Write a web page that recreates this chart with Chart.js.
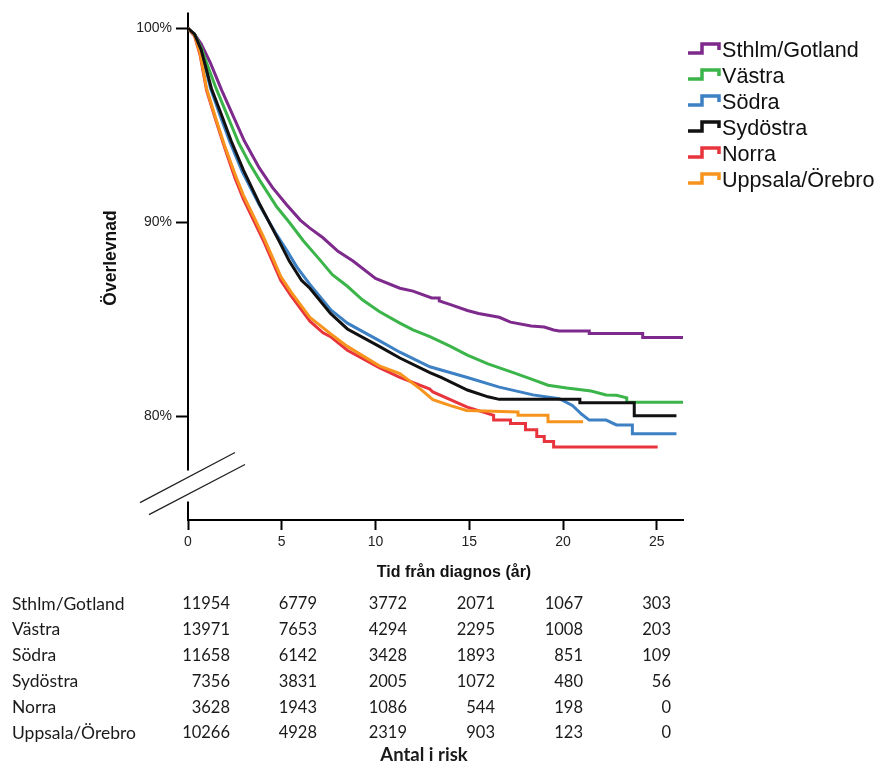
<!DOCTYPE html>
<html lang="sv">
<head>
<meta charset="utf-8">
<title>Överlevnad per region</title>
<script src="https://cdn.jsdelivr.net/npm/chart.js@4.4.1/dist/chart.umd.min.js"></script>
<style>
  html, body { margin: 0; padding: 0; background: #fff; }
  #wrap { width: 877px; height: 767px; }
</style>
</head>
<body>
<div id="wrap"><canvas id="kmChart" width="877" height="767"></canvas></div>
<script>
// Regions, in legend / table order
const regions = ['Sthlm/Gotland', 'Västra', 'Södra', 'Sydöstra', 'Norra', 'Uppsala/Örebro'];
const regionColors = ['#7d2a8c', '#3bb54a', '#3d80c3', '#111111', '#e8343c', '#f7941d'];

// Survival curves: years since diagnosis / survival in percent
const sthlmYears = [0, 0.35, 0.7, 1.2, 1.8, 2.4, 3.0, 3.8, 4.5, 5.26, 6.0, 6.5, 7.2, 8.0, 8.8, 10.0, 11.3, 12.0, 13.0, 13.4, 13.4, 14.0, 14.9, 15.5, 16.6, 17.2, 18.3, 19.0, 19.5, 19.8, 21.4, 21.4, 24.25, 24.25, 26.4];
const sthlmSurv  = [100, 99.7, 99.2, 98.2, 96.8, 95.5, 94.2, 92.8, 91.8, 90.9, 90.1, 89.7, 89.2, 88.5, 88.0, 87.1, 86.6, 86.45, 86.1, 86.1, 85.95, 85.75, 85.45, 85.3, 85.1, 84.85, 84.65, 84.6, 84.45, 84.4, 84.4, 84.27, 84.27, 84.06, 84.06];

const vastraYears = [0, 0.35, 0.7, 1.0, 1.5, 2.1, 2.7, 3.3, 3.8, 4.73, 5.4, 6.15, 7.0, 7.7, 8.5, 9.3, 10.2, 11.3, 12.0, 12.9, 14.0, 14.9, 16.0, 17.5, 18.5, 19.2, 20.2, 21.5, 22.3, 22.85, 23.4, 23.4, 26.4];
const vastraSurv  = [100, 99.7, 99.0, 98.2, 96.9, 95.5, 94.1, 93.0, 92.2, 90.8, 90.0, 89.05, 88.1, 87.3, 86.7, 86.0, 85.4, 84.8, 84.45, 84.1, 83.6, 83.15, 82.7, 82.2, 81.85, 81.6, 81.45, 81.3, 81.1, 81.08, 80.95, 80.72, 80.72];

const sodraYears = [0, 0.35, 0.7, 1.2, 1.75, 2.25, 2.9, 3.8, 4.7, 5.3, 5.8, 6.5, 7.6, 8.5, 10.2, 11.3, 12.9, 14.9, 16.6, 18.4, 19.8, 20.5, 21.0, 21.4, 22.3, 22.85, 23.7, 23.7, 26.05];
const sodraSurv  = [100, 99.65, 98.9, 96.9, 95.4, 94.1, 92.6, 90.9, 89.4, 88.5, 87.7, 86.8, 85.5, 84.8, 83.9, 83.3, 82.55, 82.0, 81.5, 81.1, 80.9, 80.56, 80.1, 79.8, 79.8, 79.55, 79.55, 79.1, 79.1];

const sydostraYears = [0, 0.35, 0.7, 1.25, 1.8, 2.3, 2.95, 3.84, 4.9, 5.4, 6.06, 6.5, 7.6, 8.5, 10.2, 11.3, 12.9, 13.5, 14.9, 16.0, 16.6, 20.9, 20.9, 23.8, 23.8, 26.05];
const sydostraSurv  = [100, 99.7, 98.9, 96.9, 95.5, 94.2, 92.7, 90.9, 88.95, 88.0, 87.0, 86.6, 85.3, 84.5, 83.6, 83.0, 82.25, 82.0, 81.35, 81.0, 80.87, 80.87, 80.7, 80.7, 80.02, 80.02];

const norraYears = [0, 0.35, 0.65, 0.99, 1.5, 1.97, 2.5, 2.95, 3.5, 4.0, 4.5, 4.95, 5.5, 6.5, 7.2, 7.6, 8.5, 10.2, 11.3, 12.9, 13.06, 14.86, 16.3, 16.3, 17.2, 17.2, 18.0, 18.0, 18.6, 18.6, 19.0, 19.0, 19.5, 19.5, 25.05];
const norraSurv  = [100, 99.6, 98.6, 96.8, 95.2, 93.8, 92.3, 91.2, 90.1, 89.1, 88.0, 87.0, 86.2, 84.9, 84.3, 84.1, 83.4, 82.5, 82.0, 81.4, 81.25, 80.48, 80.05, 79.8, 79.8, 79.62, 79.62, 79.3, 79.3, 78.95, 78.95, 78.7, 78.7, 78.42, 78.42];

const uppsalaYears = [0, 0.35, 0.65, 0.99, 1.5, 1.97, 2.5, 2.95, 3.5, 4.0, 4.5, 4.95, 5.5, 6.5, 7.6, 8.5, 10.2, 11.3, 12.4, 13.06, 14.0, 14.86, 17.6, 17.6, 19.2, 19.2, 21.07];
const uppsalaSurv  = [100, 99.65, 98.7, 96.9, 95.3, 93.9, 92.5, 91.4, 90.3, 89.3, 88.2, 87.2, 86.4, 85.1, 84.25, 83.6, 82.6, 82.2, 81.4, 80.85, 80.55, 80.3, 80.22, 80.05, 80.05, 79.71, 79.71];

// Axis ticks
const xTickValues = [0, 5, 10, 15, 20, 25];
const yTickValues = [80, 90, 100];

// Number at risk
const riskSthlm    = [11954, 6779, 3772, 2071, 1067, 303];
const riskVastra   = [13971, 7653, 4294, 2295, 1008, 203];
const riskSodra    = [11658, 6142, 3428, 1893, 851, 109];
const riskSydostra = [7356, 3831, 2005, 1072, 480, 56];
const riskNorra    = [3628, 1943, 1086, 544, 198, 0];
const riskUppsala  = [10266, 4928, 2319, 903, 123, 0];

const curves = [
  [sthlmYears, sthlmSurv],
  [vastraYears, vastraSurv],
  [sodraYears, sodraSurv],
  [sydostraYears, sydostraSurv],
  [norraYears, norraSurv],
  [uppsalaYears, uppsalaSurv]
];
const riskRows = [riskSthlm, riskVastra, riskSodra, riskSydostra, riskNorra, riskUppsala];

// lower order = drawn on top
const drawOrder = [4, 3, 5, 1, 6, 2];

const datasets = curves.map((c, i) => ({
  label: regions[i],
  data: c[0].map((t, k) => ({ x: t, y: c[1][k] })),
  borderColor: regionColors[i],
  borderWidth: 3,
  pointRadius: 0,
  tension: 0,
  fill: false,
  order: drawOrder[i]
}));

// y axis line with a break, plus the break marks
const axisBreak = {
  id: 'axisBreak',
  beforeDatasetsDraw(chart) {
    const { ctx, chartArea, scales } = chart;
    const x0 = chartArea.left;
    const gapTop = scales.y.getPixelForValue(77.2);
    const gapBottom = scales.y.getPixelForValue(75.6);
    ctx.save();
    ctx.strokeStyle = '#000';
    ctx.lineWidth = 2;
    ctx.beginPath();
    ctx.moveTo(x0, chartArea.top);
    ctx.lineTo(x0, gapTop);
    ctx.moveTo(x0, gapBottom);
    ctx.lineTo(x0, chartArea.bottom);
    ctx.stroke();
    ctx.lineWidth = 1.3;
    ctx.strokeStyle = '#222';
    ctx.beginPath();
    ctx.moveTo(x0 - 48, gapBottom + 1);
    ctx.lineTo(x0 + 47, gapTop - 18);
    ctx.moveTo(x0 - 39, gapBottom + 13);
    ctx.lineTo(x0 + 57, gapTop - 6);
    ctx.stroke();
    ctx.restore();
  }
};

// titles, legend and the number-at-risk table
const extras = {
  id: 'extras',
  afterDraw(chart) {
    const { ctx } = chart;
    ctx.save();
    ctx.fillStyle = '#111';

    // axis titles
    ctx.font = 'bold 16px "Liberation Sans", Arial, sans-serif';
    ctx.textAlign = 'center';
    ctx.textBaseline = 'middle';
    ctx.fillText('Tid från diagnos (år)', 454, 573);
    ctx.save();
    ctx.translate(111, 258);
    ctx.rotate(-Math.PI / 2);
    ctx.font = 'bold 17.5px "Liberation Sans", Arial, sans-serif';
    ctx.fillText('Överlevnad', 0, 0);
    ctx.restore();

    // legend with step icons
    ctx.font = '21.6px "Liberation Sans", Arial, sans-serif';
    ctx.textAlign = 'left';
    ctx.textBaseline = 'alphabetic';
    regions.forEach((name, i) => {
      const b = 57 + i * 26;
      ctx.strokeStyle = regionColors[i];
      ctx.lineWidth = 3.5;
      ctx.lineJoin = 'miter';
      ctx.beginPath();
      ctx.moveTo(688, b - 4);
      ctx.lineTo(702, b - 4);
      ctx.lineTo(702, b - 13);
      ctx.lineTo(719, b - 13);
      ctx.lineTo(719, b - 7);
      ctx.stroke();
      ctx.fillStyle = '#111';
      ctx.fillText(name, 722, b);
    });

    // number at risk
    const colRight = [230, 317, 407, 495, 583, 671];
    ctx.fillStyle = '#1a1a1a';
    ctx.textBaseline = 'middle';
    riskRows.forEach((row, i) => {
      const y = 604 + i * 25.8;
      ctx.textAlign = 'left';
      ctx.font = '17.5px Lato, "Open Sans", sans-serif';
      ctx.fillText(regions[i], 12, y);
      ctx.textAlign = 'right';
      ctx.font = '16.5px Lato, "Open Sans", sans-serif';
      row.forEach((n, j) => ctx.fillText(String(n), colRight[j], y));
    });
    ctx.font = 'bold 18.5px Lato, "Open Sans", sans-serif';
    ctx.textAlign = 'center';
    ctx.fillText('Antal i risk', 424, 755);
    ctx.restore();
  }
};

new Chart(document.getElementById('kmChart'), {
  type: 'line',
  data: { datasets },
  options: {
    responsive: false,
    animation: false,
    events: [],
    layout: { padding: { left: 128, right: 194, top: 10, bottom: 207 } },
    plugins: { legend: { display: false }, tooltip: { enabled: false } },
    scales: {
      x: {
        type: 'linear',
        min: 0,
        max: 26.4,
        afterBuildTicks: s => { s.ticks = xTickValues.map(v => ({ value: v })); },
        afterFit: s => { s.height = 40; },
        ticks: {
          includeBounds: false,
          color: '#222',
          padding: 4,
          maxRotation: 0,
          font: { family: '"Liberation Sans", Arial, sans-serif', size: 14 }
        },
        grid: { drawOnChartArea: false, drawTicks: true, tickLength: 10, tickColor: '#000', tickWidth: 2 },
        border: { display: true, color: '#000', width: 2 }
      },
      y: {
        type: 'linear',
        min: 74.65,
        max: 100.82,
        afterBuildTicks: s => { s.ticks = yTickValues.map(v => ({ value: v })); },
        afterFit: s => { s.width = 60; },
        ticks: {
          color: '#222',
          padding: 4,
          callback: v => v + '%',
          font: { family: '"Liberation Sans", Arial, sans-serif', size: 14 }
        },
        grid: { drawOnChartArea: false, drawTicks: true, tickLength: 12, tickColor: '#000', tickWidth: 2 },
        border: { display: false }
      }
    }
  },
  plugins: [axisBreak, extras]
});
</script>
</body>
</html>
